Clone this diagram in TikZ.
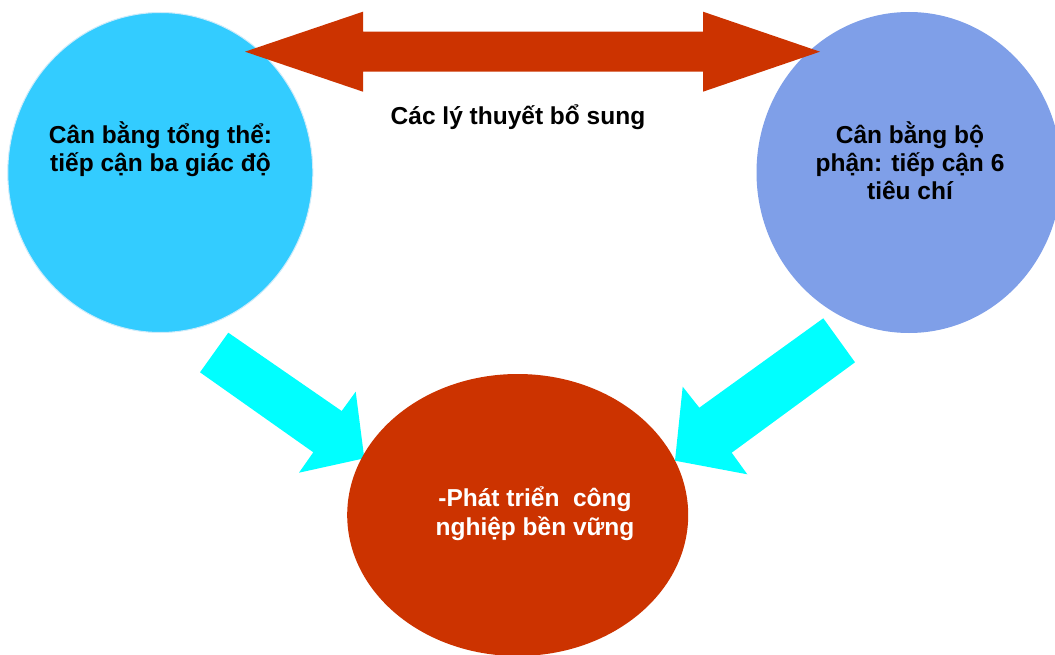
\documentclass[tikz,border=0pt]{standalone}
\usepackage{fontspec}
\setmainfont{Liberation Sans}
\usetikzlibrary{shapes.geometric}
\definecolor{leftblue}{RGB}{51,204,255}
\definecolor{rightblue}{RGB}{127,159,232}
\definecolor{rust}{RGB}{204,51,0}
\definecolor{aqua}{RGB}{0,255,255}
\definecolor{rim}{RGB}{205,235,250}
\tikzset{
  blob/.style={ellipse, inner sep=0pt, outer sep=0pt},
  lbl/.style={font=\bfseries\fontsize{24.5}{28.4}\selectfont, align=center, inner sep=0pt, anchor=base},
  blockarrow/.style={draw=none}
}
\begin{document}
\begin{tikzpicture}[x=1pt,y=-1pt]
\useasboundingbox (0,0) rectangle (1055,655);
\clip (0,0) rectangle (1055,655);
\fill[white] (0,0) rectangle (1055,655);
% circles
\node[blob, fill=leftblue, draw=rim, line width=1pt, minimum width=305, minimum height=320] (L) at (160.3,172.5) {};
\node[blob, fill=rightblue, minimum width=305, minimum height=321] (R) at (909,172.5) {};
% cyan block arrows
\fill[aqua, blockarrow] (228.3,332.7) -- (200,372.3) -- (313.3,452.3) -- (299,472.7) -- (364.3,458.3) -- (355.7,391.7) -- (341.7,411) -- cycle;
\fill[aqua, blockarrow] (823.3,318.3) -- (855,362.3) -- (731.7,452.7) -- (747.3,474.3) -- (675,460.7) -- (682.7,386.7) -- (699.3,407.7) -- cycle;
% bottom ellipse
\node[blob, fill=rust, minimum width=341, minimum height=282] (B) at (517.7,515) {};
% red double arrow
\fill[rust, blockarrow] (245,51.7) -- (363,11.7) -- (363,31.7) -- (703,31.7) -- (703,11.7) -- (820,51.7) -- (703,91.7) -- (703,71.7) -- (363,71.7) -- (363,91.7) -- cycle;
% labels (base anchor = baseline of the last line)
\node[lbl] (Ltxt) at (160.5,171.7) {Cân bằng tổng thể:\\tiếp cận ba giác độ};
\node[lbl] (Rtxt) at (910,200) {Cân bằng bộ\\phận: tiếp cận 6\\tiêu chí};
\node[lbl, text=white] (Btxt) at (535,535) {-Phát triển\ \ công\\nghiệp bền vững};
\node[lbl] (Mtxt) at (518,124.5) {Các lý thuyết bổ sung};
\end{tikzpicture}
\end{document}
